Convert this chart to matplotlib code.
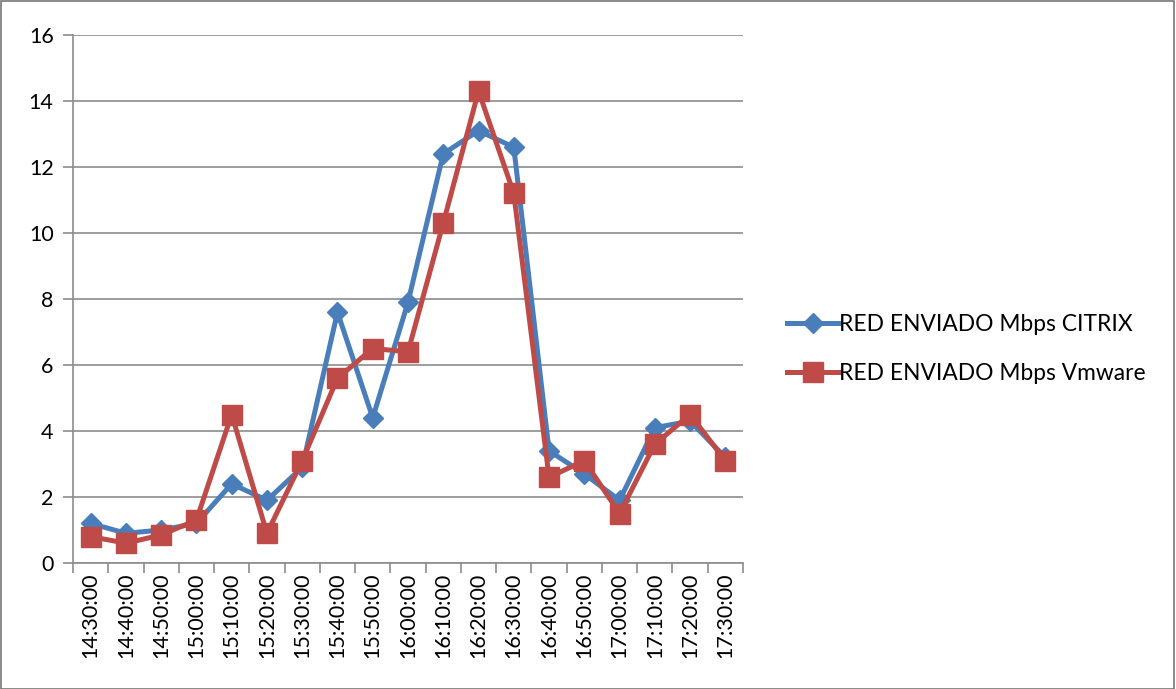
import matplotlib
matplotlib.use("Agg")
import matplotlib.pyplot as plt
from matplotlib.patches import Rectangle

times = ["14:30:00", "14:40:00", "14:50:00", "15:00:00", "15:10:00", "15:20:00",
         "15:30:00", "15:40:00", "15:50:00", "16:00:00", "16:10:00", "16:20:00",
         "16:30:00", "16:40:00", "16:50:00", "17:00:00", "17:10:00", "17:20:00",
         "17:30:00"]
citrix = [1.2, 0.9, 1.0, 1.2, 2.4, 1.9, 2.9, 7.6, 4.4, 7.9, 12.4, 13.1, 12.6,
          3.4, 2.7, 1.9, 4.1, 4.3, 3.2]
vmware = [0.8, 0.6, 0.85, 1.3, 4.5, 0.9, 3.1, 5.6, 6.5, 6.4, 10.3, 14.3, 11.2,
          2.6, 3.1, 1.5, 3.6, 4.5, 3.1]
yticks = [0, 2, 4, 6, 8, 10, 12, 14, 16]

plt.rcParams['font.family'] = ['Lato', 'DejaVu Sans']

fig = plt.figure(figsize=(11.76, 6.89), dpi=100)
fig.patches.append(Rectangle((0.0005, 0.0005), 0.998, 0.998, transform=fig.transFigure,
                             fill=False, edgecolor='#777777', linewidth=1.2))
ax = fig.add_axes([73/1176, 1 - 563/689, (743-73)/1176, (563-35)/689])

x = list(range(len(times)))
blue = '#4A7EBB'
red = '#BE4B48'
l1, = ax.plot(x, citrix, color=blue, linewidth=3.6, marker='D', markersize=10.5,
              label='RED ENVIADO Mbps CITRIX', zorder=3)
l2, = ax.plot(x, vmware, color=red, linewidth=3.6, marker='s', markersize=14,
              label='RED ENVIADO Mbps Vmware', zorder=4)

ax.set_xlim(-0.5, len(times) - 0.5)
ax.set_ylim(0, 16)
ax.set_yticks(yticks)
ax.set_yticklabels([str(v) for v in yticks], fontsize=15.5)
ax.yaxis.grid(True, color='#8C8C8C', linewidth=1.2)
ax.set_axisbelow(True)

ax.set_xticks(x)
ax.set_xticklabels(times, rotation=90, fontsize=15.5)
ax.set_xticks([i - 0.5 for i in range(len(times) + 1)], minor=True)
ax.tick_params(axis='x', which='major', length=0, pad=7)
ax.tick_params(axis='x', which='minor', length=7, color='#8C8C8C', width=1.2, direction='out')
ax.tick_params(axis='y', length=7, color='#8C8C8C', width=1.2, pad=7)

for s in ['top', 'right']:
    ax.spines[s].set_visible(False)
for s in ['left', 'bottom']:
    ax.spines[s].set_color('#8C8C8C')
    ax.spines[s].set_linewidth(1.2)

fig.legend(handles=[l1, l2], loc='center left', bbox_to_anchor=(766/1176, 1 - 349/689),
           frameon=False, fontsize=16.4, handlelength=2.3, labelspacing=1.2,
           handletextpad=0.0, markerscale=1.0)

fig.savefig('out.png', dpi=100)
